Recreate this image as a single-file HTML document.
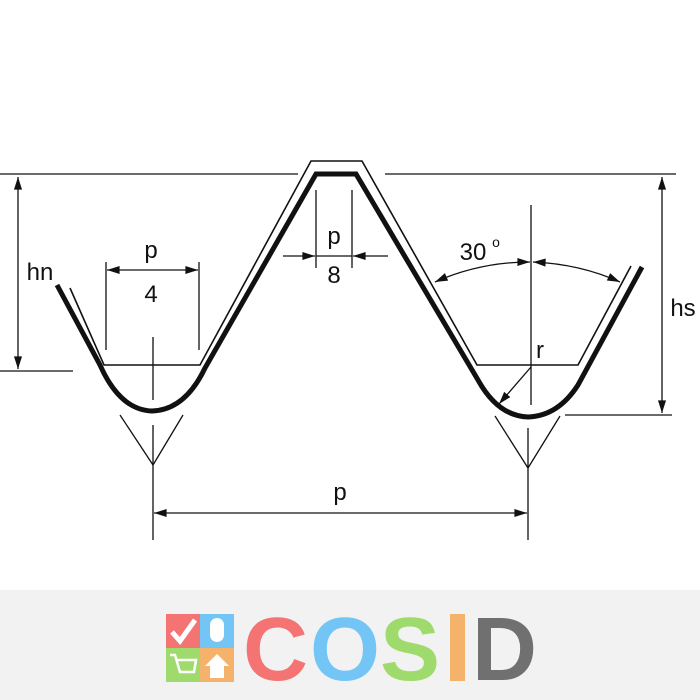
<!DOCTYPE html>
<html><head><meta charset="utf-8"><style>
body{margin:0;width:700px;height:700px;background:#fff;overflow:hidden}
svg{display:block}
</style></head><body>
<svg width="700" height="700" viewBox="0 0 700 700" xmlns="http://www.w3.org/2000/svg">
<defs>
<marker id="a" viewBox="0 0 14 10" refX="14" refY="5" markerWidth="14" markerHeight="9" orient="auto-start-reverse" markerUnits="userSpaceOnUse"><path d="M0,0.5 L14,5 L0,9.5 Z" fill="#111"/></marker>
</defs>
<g fill="none" stroke="#111" stroke-linecap="butt">
<path d="M57,285 L100,365 Q120,410 152,411 Q185,410 205,368 L316,174 L356,174 L478,380 Q498,416 528,417 Q558,416 578,385 L642,267" stroke-width="5"/>
<path d="M70,288 L104,365 L200,365 L311,161 L362,161 L477,365 L578,365 L631,266" stroke-width="1.6"/>
<g stroke-width="1.3">
<line x1="0" y1="174" x2="298" y2="174"/>
<line x1="385" y1="174" x2="676" y2="174"/>
<line x1="18" y1="177" x2="18" y2="369" marker-start="url(#a)" marker-end="url(#a)"/>
<line x1="0" y1="371" x2="73" y2="371"/>
<line x1="662" y1="177" x2="662" y2="413" marker-start="url(#a)" marker-end="url(#a)"/>
<line x1="565" y1="415" x2="672" y2="415"/>
<line x1="106" y1="262" x2="106" y2="350"/>
<line x1="199" y1="262" x2="199" y2="350"/>
<line x1="107" y1="270" x2="198" y2="270" marker-start="url(#a)" marker-end="url(#a)"/>
<line x1="153" y1="337" x2="153" y2="400"/>
<polyline points="120,415 153,465 183,415"/>
<line x1="153" y1="425" x2="153" y2="540"/>
<polyline points="495,416 528,468 560,416"/>
<line x1="528" y1="428" x2="528" y2="540"/>
<line x1="531" y1="205" x2="531" y2="405"/>
<line x1="316" y1="190" x2="316" y2="268"/>
<line x1="352" y1="190" x2="352" y2="268"/>
<line x1="283" y1="256" x2="315" y2="256" marker-end="url(#a)"/>
<line x1="388" y1="256" x2="353" y2="256" marker-end="url(#a)"/>
<line x1="316" y1="256" x2="352" y2="256"/>
<path d="M435,282 Q480,262 530,262" marker-start="url(#a)" marker-end="url(#a)"/>
<path d="M533,262 Q580,264 620,282" marker-start="url(#a)" marker-end="url(#a)"/>
<line x1="531" y1="367" x2="499" y2="404" marker-end="url(#a)"/>
<line x1="154" y1="513" x2="527" y2="513" marker-start="url(#a)" marker-end="url(#a)"/>
</g>
</g>
<g font-family="Liberation Sans, sans-serif" font-size="24" fill="#111" text-anchor="middle">
<text x="40" y="280">hn</text>
<text x="683" y="316">hs</text>
<text x="151" y="258">p</text>
<text x="151" y="302">4</text>
<text x="334" y="244">p</text>
<text x="334" y="283">8</text>
<text x="473" y="260">30</text>
<text x="496" y="247" font-size="14">o</text>
<text x="540" y="358">r</text>
<text x="340" y="500">p</text>
</g>
<rect x="0" y="590" width="700" height="110" fill="#f2f2f2"/>
<rect x="166" y="614" width="34" height="34" fill="#f47474"/>
<rect x="200" y="614" width="34" height="34" fill="#73c5f5"/>
<rect x="166" y="648" width="34" height="34" fill="#9edb6c"/>
<rect x="200" y="648" width="34" height="34" fill="#f5b26b"/>
<path d="M172,632 L180,641 L195,620" stroke="#fff" stroke-width="5" fill="none"/>
<rect x="210" y="618" width="14" height="24" rx="7" fill="#fff"/>
<path d="M170,655 L175,655 L180,672 L194,672 L196,660 L177,660" stroke="#fff" stroke-width="2.5" fill="none"/>
<path d="M205,666 L217,654 L229,666 L224,666 L224,678 L210,678 L210,666 Z" fill="#fff"/>
<g font-family="Liberation Sans, sans-serif" font-weight="bold" font-size="90">
<text x="243" y="680" fill="#f47474">C</text>
<text x="310" y="680" fill="#73c5f5">O</text>
<text x="380" y="680" fill="#9edb6c">S</text>
<rect x="450" y="614" width="15" height="67" fill="#f5b26b"/>
<text x="472" y="680" fill="#707070">D</text>
</g>
</svg>
</body></html>
